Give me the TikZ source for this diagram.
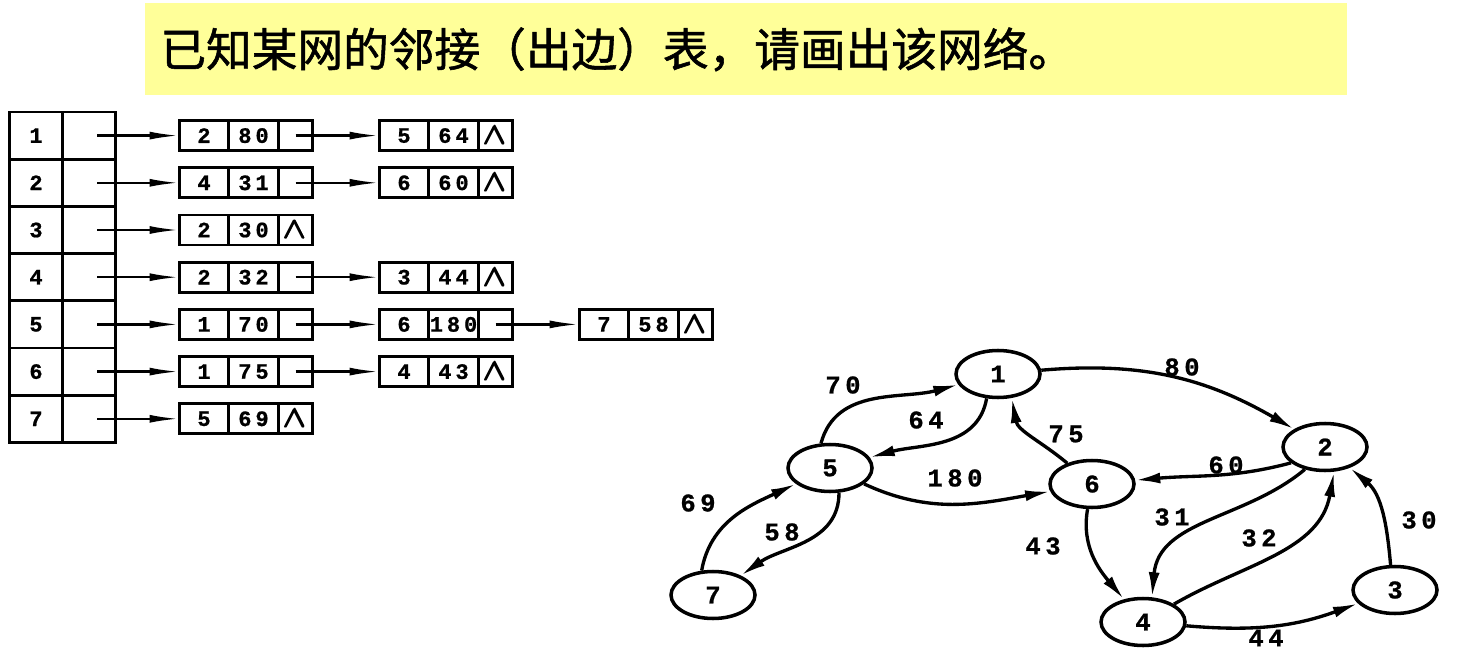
\documentclass[tikz,border=0pt]{standalone}
\usepackage{fontspec}
\usepackage{amsmath,amssymb}
\usetikzlibrary{shapes.geometric, arrows.meta, positioning, calc}
\newfontfamily\cjkfont[FakeBold=1.2]{Noto Sans CJK SC}
\newfontfamily\digitfont[LetterSpace=18, BoldFeatures={FakeBold=0.8}]{Liberation Mono}
\definecolor{notebg}{HTML}{FFFF99}

% one element of an out-edge list: vertex | weight | link
\newcommand{\edgecell}[6]{%
  \node[vcell, right=#3 of #2] (v#1) {#4};
  \node[wcell, right=0pt of v#1] (w#1) {#5};
  \node[lcell, right=0pt of w#1] (l#1) {#6};}
\newcommand{\nullmark}{\LARGE$\pmb{\boldsymbol{\wedge}}$}

\begin{document}
\begin{tikzpicture}[x=0.2mm, y=0.2mm,
    cell/.style={rectangle, draw, line width=1.5pt, outer sep=0pt, inner sep=0pt,
                 minimum height=6mm, font=\digitfont\bfseries\fontsize{12.5}{12.5}\selectfont},
    hcell/.style={cell, minimum width=10.6mm, minimum height=9.44mm},
    vcell/.style={cell, minimum width=9.8mm},
    wcell/.style={cell, minimum width=10mm},
    lcell/.style={cell, minimum width=6.8mm},
    ptr/.style={-{Latex[length=6mm, width=1.6mm]}, line width=1.4pt},
    vtx/.style={ellipse, draw, line width=2pt, minimum width=16.8mm, minimum height=9.4mm,
                inner sep=0pt, font=\digitfont\bfseries\fontsize{14.5}{14.5}\selectfont},
    arc/.style={-{Latex[length=5mm, width=2.2mm]}, line width=1.9pt},
    wt/.style={inner sep=0pt, font=\digitfont\bfseries\fontsize{14.5}{14.5}\selectfont}
]
\useasboundingbox (0,0) rectangle (1460,-658);

% question banner
\node[fill=notebg, minimum width=240.4mm, minimum height=18.4mm, anchor=north west, inner sep=0pt] (banner) at (145,-3) {};
\node[anchor=west, inner sep=0pt, font=\cjkfont\fontsize{26}{30}\selectfont] (title) at ([xshift=3mm]banner.west) {已知某网的邻接（出边）表，请画出该网络。};

% head array
\foreach \i in {1,...,7} {
  \node[hcell] (h\i) at (36, {-112-47.2*(\i-0.5)}) {\i};
  \node[hcell, right=0pt of h\i] (p\i) {};
}

% edge lists
\edgecell{a1}{p1}{12.8mm}{2}{80}{}
\edgecell{b1}{la1}{13.4mm}{5}{64}{\nullmark}
\edgecell{a2}{p2}{12.8mm}{4}{31}{}
\edgecell{b2}{la2}{13.4mm}{6}{60}{\nullmark}
\edgecell{a3}{p3}{12.8mm}{2}{30}{\nullmark}
\edgecell{a4}{p4}{12.8mm}{2}{32}{}
\edgecell{b4}{la4}{13.4mm}{3}{44}{\nullmark}
\edgecell{a5}{p5}{12.8mm}{1}{70}{}
\edgecell{b5}{la5}{13.4mm}{6}{180}{}
\edgecell{c5}{lb5}{13.4mm}{7}{58}{\nullmark}
\edgecell{a6}{p6}{12.8mm}{1}{75}{}
\edgecell{b6}{la6}{13.4mm}{4}{43}{\nullmark}
\edgecell{a7}{p7}{12.8mm}{5}{69}{\nullmark}

\foreach \i in {1,...,7}
  \draw[ptr] ([xshift=1.6mm]p\i.center) -- (va\i.west);
\foreach \i in {1,2,4,5,6}
  \draw[ptr] (la\i.center) -- (vb\i.west);
\draw[ptr] (lb5.center) -- (vc5.west);

% the network
\node[vtx] (n1) at (998,-374) {1};
\node[vtx] (n2) at (1325,-447) {2};
\node[vtx] (n3) at (1395,-590) {3};
\node[vtx] (n4) at (1143,-622) {4};
\node[vtx] (n5) at (830,-468) {5};
\node[vtx] (n6) at (1092,-484) {6};
\node[vtx] (n7) at (713,-595) {7};

\draw[arc] (n1) to[out=5, in=150] (n2);
\draw[arc] (n5.110) to[out=75, in=195] (n1);
\draw[arc] (n1.-115) to[out=-100, in=15] (n5);
\draw[arc] (n6) to[out=140, in=-80] (n1.-60);
\draw[arc] (n5) to[out=-25, in=190] (n6);
\draw[arc] (n2.205) to[out=195, in=5] (n6);
\draw[arc] (n2.228) to[out=220, in=85] (n4.70);
\draw[arc] (n4) to[out=30, in=-100] (n2.-70);
\draw[arc] (n6) to[out=-100, in=130] (n4);
\draw[arc] (n4) to[out=-5, in=200] (n3);
\draw[arc] (n3.100) to[out=95, in=-40] (n2);
\draw[arc] (n7.115) to[out=80, in=205] (n5);
\draw[arc] (n5.-70) to[out=-90, in=35] (n7);

\node[wt] (w12) at (1182,-367) {80};
\node[wt] (w51) at (843,-385) {70};
\node[wt] (w15) at (926,-420) {64};
\node[wt] (w61) at (1066,-434) {75};
\node[wt] (w56) at (955,-478) {180};
\node[wt] (w26) at (1226,-465) {60};
\node[wt] (w24) at (1172,-517) {31};
\node[wt] (w42) at (1259,-538) {32};
\node[wt] (w64) at (1043,-546) {43};
\node[wt] (w43) at (1266,-638) {44};
\node[wt] (w32) at (1419,-520) {30};
\node[wt] (w75) at (698,-503) {69};
\node[wt] (w57) at (782,-532) {58};
\end{tikzpicture}
\end{document}
